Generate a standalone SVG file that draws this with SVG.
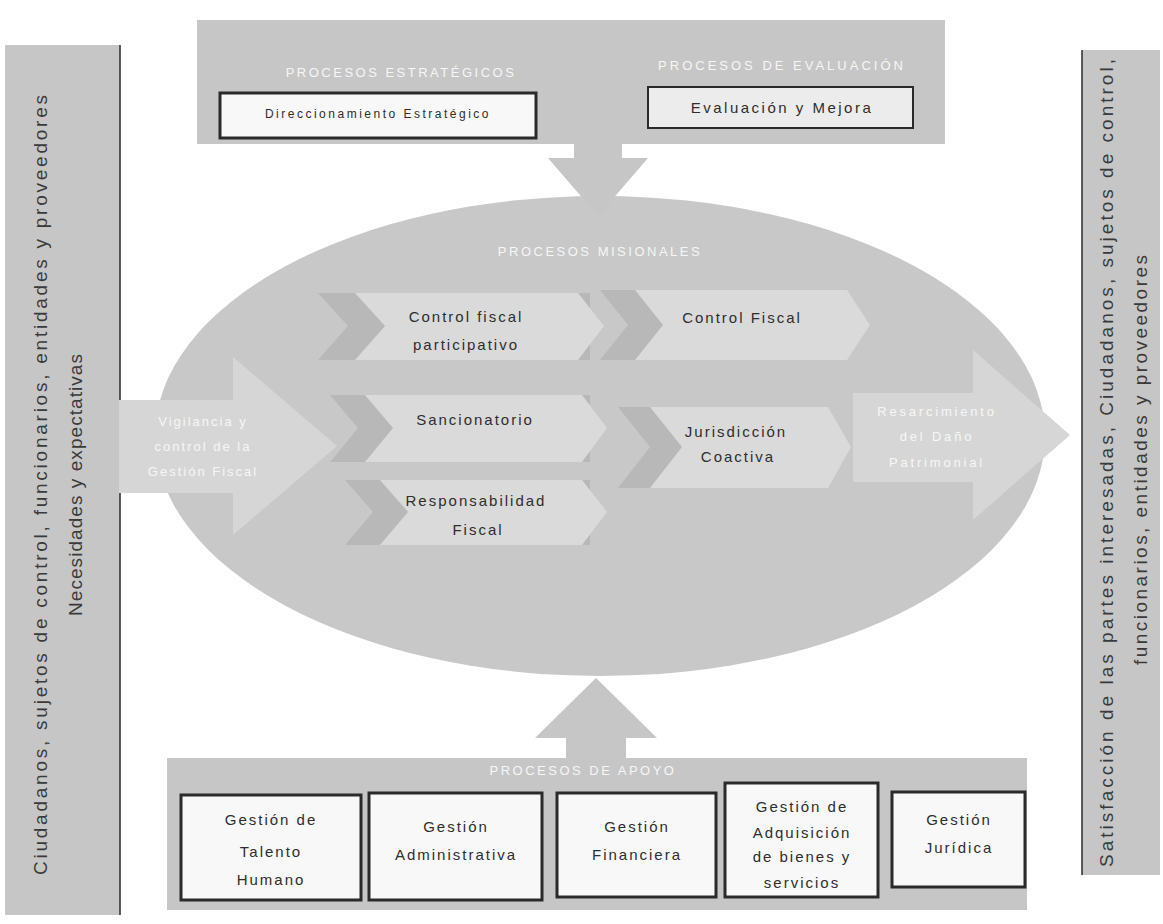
<svg xmlns="http://www.w3.org/2000/svg" width="1163" height="924" viewBox="0 0 1163 924">
<defs>
<style>
.bar{fill:#c6c6c6;}
.edge{fill:none;stroke:#2a2a2a;stroke-width:1.5;}
.hdr{font-family:"Liberation Sans",Arial,sans-serif;font-size:13px;fill:#f6f6f6;letter-spacing:2.5px;text-anchor:middle;}
.lbl{font-family:"Liberation Sans",Arial,sans-serif;font-size:15px;fill:#2e2e2e;letter-spacing:2px;text-anchor:middle;}
.box{fill:#f8f8f8;stroke:#2a2a2a;stroke-width:3;}
.chl{fill:#dadada;}
.chd{fill:#b8b8b8;}
.arr{fill:#d6d6d6;}
.wt{font-family:"Liberation Sans",Arial,sans-serif;font-size:13px;fill:#f6f6f6;letter-spacing:2px;text-anchor:middle;}
.side{font-family:"Liberation Sans",Arial,sans-serif;font-size:19px;fill:#3a3a3a;text-anchor:middle;}
</style>
</defs>
<rect width="1163" height="924" fill="#ffffff"/>

<g id="left-bar">
<rect class="bar" x="5" y="45" width="115" height="870"/>
<line class="edge" x1="120" y1="45" x2="120" y2="915"/>
<text class="side" transform="translate(47,485) rotate(-90)" textLength="780" lengthAdjust="spacing">Ciudadanos, sujetos de control, funcionarios, entidades y proveedores</text>
<text class="side" transform="translate(82,485) rotate(-90)" textLength="262" lengthAdjust="spacing">Necesidades y expectativas</text>
</g>

<g id="right-bar">
<rect class="bar" x="1082" y="50" width="78" height="825"/>
<line class="edge" x1="1082" y1="50" x2="1082" y2="875"/>
<text class="side" transform="translate(1113,463) rotate(-90)" textLength="808" lengthAdjust="spacing">Satisfacción de las partes interesadas, Ciudadanos, sujetos de control,</text>
<text class="side" transform="translate(1147,460) rotate(-90)" textLength="410" lengthAdjust="spacing">funcionarios, entidades y proveedores</text>
</g>

<g id="top-bar">
<rect class="bar" x="197" y="20" width="748" height="124"/>
</g>

<g id="procesos-estrategicos">
<text class="hdr" x="401" y="77">PROCESOS ESTRATÉGICOS</text>
<rect class="box" x="220" y="93" width="316" height="45"/>
<text class="lbl" x="378" y="118" style="font-size:12px;letter-spacing:2.5px">Direccionamiento Estratégico</text>
</g>

<g id="procesos-evaluacion">
<text class="hdr" x="782" y="70" style="letter-spacing:3px">PROCESOS DE EVALUACIÓN</text>
<rect x="648" y="87" width="265" height="41" fill="#ececec" stroke="#2a2a2a" stroke-width="2"/>
<text class="lbl" x="782" y="113" style="letter-spacing:2.5px">Evaluación y  Mejora</text>
</g>

<g id="bottom-bar">
<rect class="bar" x="167" y="758" width="860" height="152"/>
<text class="hdr" x="583" y="775">PROCESOS DE APOYO</text>
</g>

<g id="ellipse-misionales">
<ellipse cx="600" cy="436" rx="445" ry="240" fill="#c8c8c8"/>
<text class="hdr" x="600" y="256">PROCESOS MISIONALES</text>
</g>

<g id="chevron-control-fiscal-participativo">
<polygon class="chd" points="318,293 590,293 590,360 318,360 348,326"/>
<polygon class="chl" points="355,293 578,293 604,326 578,360 355,360 385,326"/>
<text class="lbl" x="466" y="322">Control fiscal</text>
<text class="lbl" x="466" y="350">participativo</text>
</g>

<g id="chevron-control-fiscal">
<polygon class="chd" points="600,290 700,290 700,360 600,360 628,325"/>
<polygon class="chl" points="635,290 847,290 870,325 847,360 635,360 663,325"/>
<text class="lbl" x="742" y="323">Control  Fiscal</text>
</g>

<g id="chevron-sancionatorio">
<polygon class="chd" points="330,395 590,395 590,462 330,462 358,428"/>
<polygon class="chl" points="365,395 582,395 607,428 582,462 365,462 393,428"/>
<text class="lbl" x="475" y="425">Sancionatorio</text>
</g>

<g id="chevron-jurisdiccion-coactiva">
<polygon class="chd" points="618,407 700,407 700,488 618,488 650,447"/>
<polygon class="chl" points="650,407 828,407 851,447 828,488 650,488 682,447"/>
<text class="lbl" x="736" y="437">Jurisdicción</text>
<text class="lbl" x="738" y="462">Coactiva</text>
</g>

<g id="chevron-responsabilidad-fiscal">
<polygon class="chd" points="345,480 590,480 590,545 345,545 373,512"/>
<polygon class="chl" points="380,480 582,480 607,512 582,545 380,545 408,512"/>
<text class="lbl" x="476" y="506">Responsabilidad</text>
<text class="lbl" x="478" y="535">Fiscal</text>
</g>

<g id="arrow-vigilancia">
<polygon class="arr" points="119,400 233,400 233,357 337,446 233,535 233,493 119,493"/>
<text class="wt" x="203" y="426">Vigilancia y</text>
<text class="wt" x="203" y="451">control de la</text>
<text class="wt" x="203" y="476">Gestión Fiscal</text>
</g>

<g id="arrow-resarcimiento">
<polygon class="arr" points="853,393 973,393 973,350 1070,435 973,520 973,482 853,482"/>
<text class="wt" x="937" y="416" style="letter-spacing:2.8px">Resarcimiento</text>
<text class="wt" x="937" y="441" style="letter-spacing:2.8px">del Daño</text>
<text class="wt" x="937" y="467" style="letter-spacing:2.8px">Patrimonial</text>
</g>

<g id="apoyo-nodes">
<g id="talento-humano">
<rect class="box" x="181" y="795" width="180" height="105"/>
<text class="lbl" x="271" y="825">Gestión de</text>
<text class="lbl" x="271" y="857">Talento</text>
<text class="lbl" x="271" y="885">Humano</text>
</g>
<g id="administrativa">
<rect class="box" x="369" y="793" width="173" height="107"/>
<text class="lbl" x="456" y="832">Gestión</text>
<text class="lbl" x="456" y="860">Administrativa</text>
</g>
<g id="financiera">
<rect class="box" x="557" y="793" width="159" height="104"/>
<text class="lbl" x="637" y="832">Gestión</text>
<text class="lbl" x="637" y="860">Financiera</text>
</g>
<g id="adquisicion">
<rect class="box" x="725" y="783" width="153" height="114"/>
<text class="lbl" x="802" y="812">Gestión de</text>
<text class="lbl" x="802" y="838">Adquisición</text>
<text class="lbl" x="802" y="862">de bienes y</text>
<text class="lbl" x="802" y="888">servicios</text>
</g>
<g id="juridica">
<rect class="box" x="892" y="792" width="133" height="95"/>
<text class="lbl" x="959" y="825">Gestión</text>
<text class="lbl" x="959" y="853">Jurídica</text>
</g>
</g>

<g id="connectors">
<polygon class="bar" points="574,142 622,142 622,158 648,158 598,216 548,158 574,158"/>
<polygon class="bar" points="566,760 626,760 626,738 657,738 596,678 535,738 566,738"/>
</g>
</svg>
